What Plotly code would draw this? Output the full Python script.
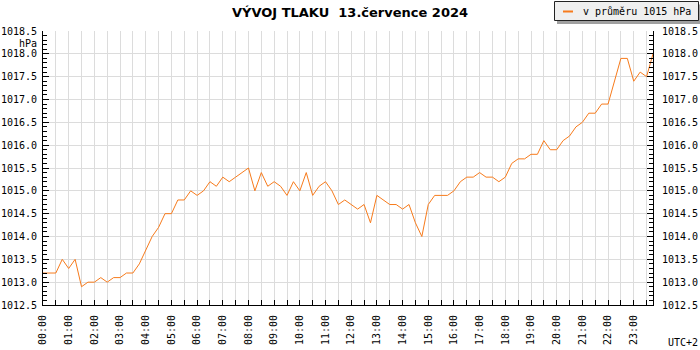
import plotly.graph_objects as go

# ---- data ----
times = [f"{h:02d}:{m:02d}" for h in range(24) for m in (0, 15, 30, 45)]
pressure = [
    1013.2, 1013.2, 1013.2, 1013.5, 1013.3, 1013.5, 1012.9, 1013.0,
    1013.0, 1013.1, 1013.0, 1013.1, 1013.1, 1013.2, 1013.2, 1013.4,
    1013.7, 1014.0, 1014.2, 1014.5, 1014.5, 1014.8, 1014.8, 1015.0,
    1014.9, 1015.0, 1015.2, 1015.1, 1015.3, 1015.2, 1015.3, 1015.4,
    1015.5, 1015.0, 1015.4, 1015.1, 1015.2, 1015.1, 1014.9, 1015.2,
    1015.0, 1015.4, 1014.9, 1015.1, 1015.2, 1015.0, 1014.7, 1014.8,
    1014.7, 1014.6, 1014.7, 1014.3, 1014.9, 1014.8, 1014.7, 1014.7,
    1014.6, 1014.7, 1014.3, 1014.0, 1014.7, 1014.9, 1014.9, 1014.9,
    1015.0, 1015.2, 1015.3, 1015.3, 1015.4, 1015.3, 1015.3, 1015.2,
    1015.3, 1015.6, 1015.7, 1015.7, 1015.8, 1015.8, 1016.1, 1015.9,
    1015.9, 1016.1, 1016.2, 1016.4, 1016.5, 1016.7, 1016.7, 1016.9,
    1016.9, 1017.4, 1017.9, 1017.9, 1017.4, 1017.6, 1017.5, 1018.0,
]
hour_labels = [f"{h:02d}:00" for h in range(24)]
title_text = "VÝVOJ TLAKU\u00a0 13.července 2024"
legend_text = "v průměru 1015 hPa"
unit_text = "hPa"
tz_text = "UTC+2"

def to_hours(t):
    h, m = t.split(":")
    return int(h) + int(m) / 60.0

x = [to_hours(t) for t in times]

# tick positions every half hour, labels only on full hours
tickvals = []
ticktext = []
for lab in hour_labels:
    hv = to_hours(lab)
    tickvals += [hv, hv + 0.5]
    ticktext += [lab, ""]

LINE = "#f77b1c"
GRID = "#dcdcdc"
MONO = "DejaVu Sans Mono"

W, H = 700, 350
L, R, T, B = 43, 47, 31, 45
PW, PH = W - L - R, H - T - B

def px(xp):
    return (xp - L) / PW

def py(yp):
    return (H - B - yp) / PH

fig = go.Figure()
fig.add_trace(go.Scatter(x=x, y=pressure, mode="lines",
                         line=dict(color=LINE, width=1), showlegend=False,
                         hoverinfo="skip"))
fig.add_trace(go.Scatter(x=x, y=pressure, mode="lines", yaxis="y2",
                         line=dict(color="rgba(0,0,0,0)", width=0),
                         showlegend=False, hoverinfo="skip"))

axis_common = dict(
    range=[1012.5, 1018.5], dtick=0.5, tick0=1012.5, tickformat=".1f",
    ticks="inside", ticklen=6, tickcolor="black",
    minor=dict(dtick=0.1, ticks="inside", ticklen=4, tickcolor="black", showgrid=False),
    showline=True, linecolor="black", linewidth=1, zeroline=False,
    tickfont=dict(family=MONO, size=10, color="black"),
    automargin=False,
)

fig.update_layout(
    width=W, height=H,
    margin=dict(l=L, r=R, t=T, b=B, autoexpand=False),
    paper_bgcolor="white", plot_bgcolor="white",
    showlegend=False,
    title=dict(text=title_text, x=0.5, xref="container", xanchor="center",
               y=1 - 12 / H, yref="container", yanchor="middle",
               font=dict(family="DejaVu Sans", size=13, color="black", weight="bold")),
    xaxis=dict(range=[0, 23.75], tickmode="array", tickvals=tickvals, ticktext=ticktext,
               tickangle=-90, ticks="inside", ticklen=5, tickcolor="black",
               showline=True, linecolor="black", linewidth=1, zeroline=False,
               showgrid=True, gridcolor=GRID, gridwidth=1,
               tickfont=dict(family=MONO, size=10, color="black"),
               ticklabelstandoff=5, automargin=False),
    yaxis=dict(showgrid=True, gridcolor=GRID, gridwidth=1, ticklabelstandoff=3,
               **axis_common),
    yaxis2=dict(overlaying="y", side="right", showgrid=False, ticklabelstandoff=6,
                **axis_common),
)

# legend box with shadow
fig.add_shape(type="rect", xref="paper", yref="paper",
              x0=px(557), x1=px(702), y0=py(24), y1=py(4.5),
              fillcolor="#a0a0a0", line=dict(width=0), layer="above")
fig.add_shape(type="rect", xref="paper", yref="paper",
              x0=px(554.5), x1=px(698.5), y0=py(20.5), y1=py(1.5),
              fillcolor="#efefef", line=dict(color="#222222", width=1), layer="above")
fig.add_shape(type="line", xref="paper", yref="paper",
              x0=px(563), x1=px(573), y0=py(11.5), y1=py(11.5),
              line=dict(color=LINE, width=2), layer="above")
fig.add_annotation(text=legend_text, xref="paper", yref="paper",
                   x=px(581), y=py(11.5), xanchor="left", yanchor="middle",
                   showarrow=False, font=dict(family=MONO, size=10, color="black"))

fig.add_annotation(text=unit_text, xref="paper", yref="paper",
                   x=px(38.5), y=py(43.5), xanchor="right", yanchor="middle",
                   showarrow=False, font=dict(family=MONO, size=10, color="black"))
fig.add_annotation(text=tz_text, xref="paper", yref="paper",
                   x=px(683), y=py(342.5), xanchor="center", yanchor="middle",
                   showarrow=False, font=dict(family=MONO, size=10, color="black"))

fig.write_html("out.html",
               config={"displayModeBar": False},
               post_script="document.body.style.margin='0';document.body.style.padding='0';")
